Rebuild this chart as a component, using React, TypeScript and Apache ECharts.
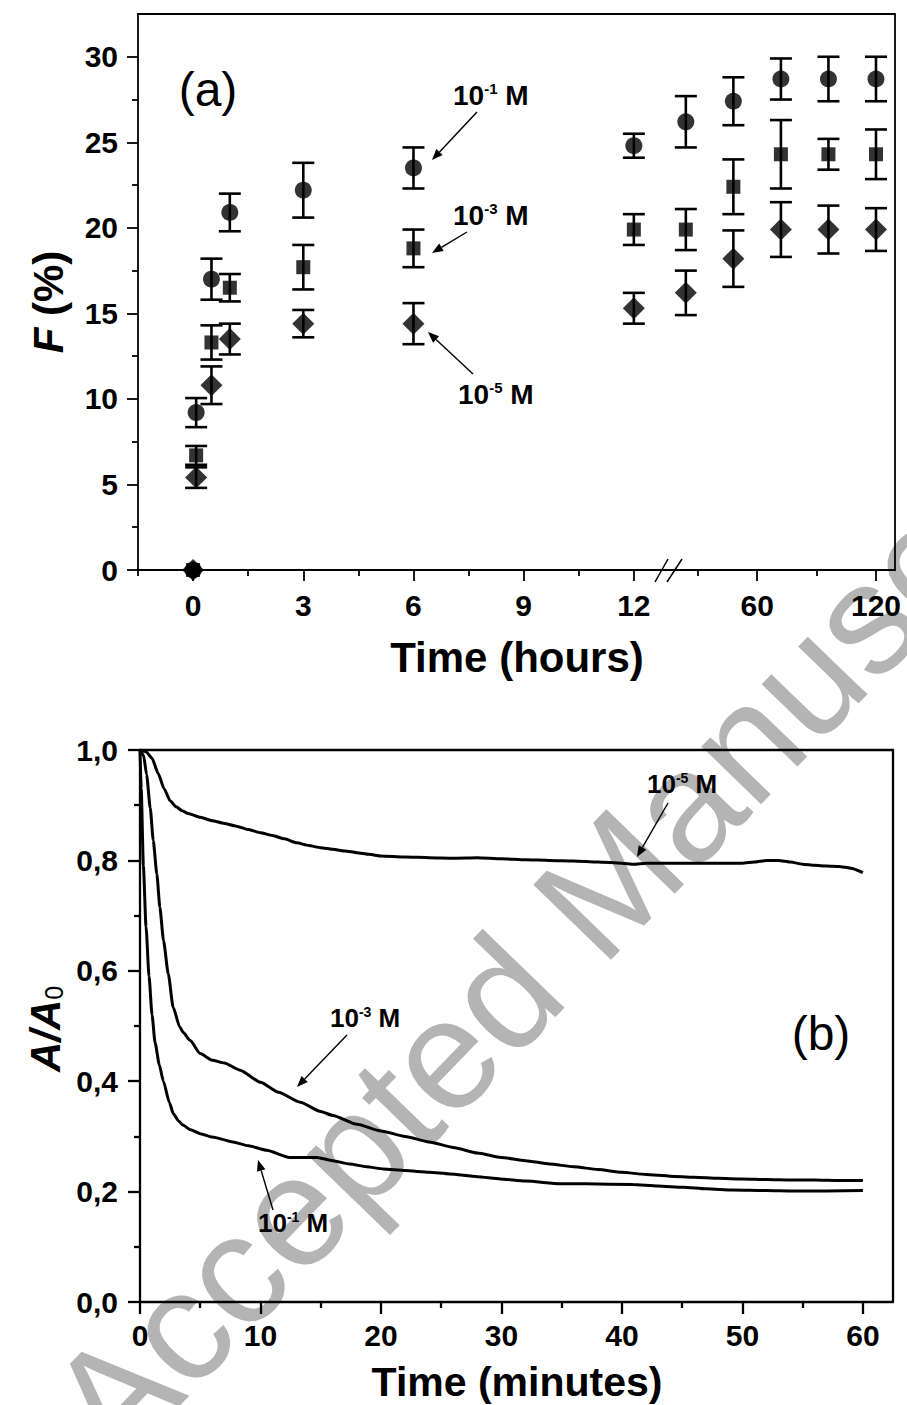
import React, { useEffect, useRef } from 'react';
import * as echarts from 'echarts';

// ---------------- Panel (a): F (%) vs time (hours) ----------------
const hours = [0, 0.083, 0.5, 1, 3, 6, 12, 24, 48, 72, 96, 120];
const fConc1 = [0, 9.2, 17.0, 20.9, 22.2, 23.5, 24.8, 26.2, 27.4, 28.7, 28.7, 28.7];
const fConc1Err = [0, 0.85, 1.2, 1.1, 1.6, 1.2, 0.7, 1.5, 1.4, 1.2, 1.3, 1.3];
const fConc3 = [0, 6.7, 13.3, 16.5, 17.7, 18.8, 19.9, 19.9, 22.4, 24.3, 24.3, 24.3];
const fConc3Err = [0, 0.55, 1.0, 0.8, 1.3, 1.1, 0.9, 1.2, 1.6, 2.0, 0.9, 1.45];
const fConc5 = [0, 5.4, 10.8, 13.5, 14.4, 14.4, 15.3, 16.2, 18.2, 19.9, 19.9, 19.9];
const fConc5Err = [0, 0.6, 1.1, 0.9, 0.8, 1.2, 0.9, 1.3, 1.65, 1.6, 1.4, 1.25];

const breakHour = 13;
const hourTicksLeft = [0, 3, 6, 9, 12];
const hourMinorLeft = [-1.5, 1.5, 4.5, 7.5, 10.5];
const hourTicksRight = [60, 120];
const hourMinorRight = [30, 90];
const fTicks = [0, 5, 10, 15, 20, 25, 30];
const fMinor = [2.5, 7.5, 12.5, 17.5, 22.5, 27.5];

// ---------------- Panel (b): A/A0 vs time (minutes) ----------------
const minuteTicks = [0, 10, 20, 30, 40, 50, 60];
const minuteMinor = [5, 15, 25, 35, 45, 55];

const t5 = [0, 0.5, 1, 1.5, 2, 2.5, 3, 3.5, 4, 5, 6, 7, 8, 9, 10, 11, 12, 13, 14, 15, 16, 17, 18, 19, 20,
  22, 24, 26, 28, 30, 32, 34, 36, 38, 40, 41, 42, 44, 46, 48, 50, 51, 52, 53, 54, 55, 56, 57, 58, 59, 60];
const a5 = [1.0, 0.997, 0.985, 0.958, 0.93, 0.908, 0.897, 0.89, 0.885, 0.878, 0.872, 0.867, 0.862, 0.856, 0.85,
  0.845, 0.839, 0.832, 0.827, 0.823, 0.82, 0.817, 0.814, 0.811, 0.808, 0.806, 0.805, 0.804, 0.805, 0.803, 0.801,
  0.8, 0.799, 0.797, 0.795, 0.793, 0.795, 0.795, 0.795, 0.795, 0.795, 0.797, 0.8, 0.8, 0.797, 0.793, 0.791, 0.79,
  0.789, 0.786, 0.778];

const t3 = [0, 0.3, 0.55, 0.85, 1.1, 1.4, 1.65, 1.95, 2.35, 2.75, 3.3, 3.6, 4.15, 5, 6, 7, 8.3, 10, 11.5, 13.3,
  15, 16, 18, 20, 22, 24, 26, 28, 30, 32, 34, 36, 38, 40, 42, 44, 46, 48, 50, 52, 54, 56, 58, 60];
const a3 = [1.0, 0.99, 0.955, 0.895, 0.836, 0.775, 0.715, 0.655, 0.594, 0.534, 0.498, 0.488, 0.474, 0.45, 0.438,
  0.433, 0.42, 0.398, 0.38, 0.362, 0.345, 0.338, 0.322, 0.31, 0.3, 0.29, 0.28, 0.27, 0.262, 0.256, 0.25, 0.245,
  0.24, 0.235, 0.231, 0.228, 0.226, 0.224, 0.223, 0.222, 0.221, 0.221, 0.22, 0.22];

const t1 = [0, 0.1, 0.28, 0.5, 0.75, 1.0, 1.25, 1.6, 1.94, 2.43, 2.77, 3.2, 3.6, 4.2, 5, 6, 7.7, 9, 10.5, 12.4,
  13.5, 14.7, 16, 17.4, 18.8, 20.2, 22, 24, 25.7, 28, 29.9, 32, 34.9, 37, 40.9, 43, 45.1, 47, 49.2, 52, 54.2, 57, 60];
const a1 = [1.0, 0.93, 0.79, 0.68, 0.59, 0.52, 0.47, 0.43, 0.4, 0.362, 0.341, 0.328, 0.32, 0.312, 0.305, 0.299,
  0.29, 0.283, 0.275, 0.262, 0.262, 0.262, 0.256, 0.25, 0.245, 0.241, 0.238, 0.235, 0.232, 0.227, 0.223, 0.219,
  0.214, 0.214, 0.213, 0.21, 0.208, 0.205, 0.203, 0.202, 0.201, 0.201, 0.202];

const FONT = 'Liberation Sans';
const BLACK = '#000';

function pairs(xs: number[], ys: number[]) {
  return xs.map((x, i) => [x, ys[i]]);
}

function points(vals: number[], left: boolean) {
  const out: number[][] = [];
  hours.forEach((h, i) => {
    if ((h < breakHour) === left) out.push([h, vals[i]]);
  });
  return out;
}

function errs(vals: number[], e: number[], left: boolean) {
  const out: number[][] = [];
  hours.forEach((h, i) => {
    if ((h < breakHour) === left && e[i] > 0) out.push([h, vals[i] - e[i], vals[i] + e[i]]);
  });
  return out;
}

function errRender(params: any, api: any) {
  const x = api.value(0);
  const p1 = api.coord([x, api.value(1)]);
  const p2 = api.coord([x, api.value(2)]);
  const cap = 11;
  const style = { stroke: BLACK, lineWidth: 2.6 };
  return {
    type: 'group',
    children: [
      { type: 'line', shape: { x1: p1[0], y1: p1[1], x2: p2[0], y2: p2[1] }, style },
      { type: 'line', shape: { x1: p1[0] - cap, y1: p1[1], x2: p1[0] + cap, y2: p1[1] }, style },
      { type: 'line', shape: { x1: p2[0] - cap, y1: p2[1], x2: p2[0] + cap, y2: p2[1] }, style },
    ],
  };
}

function arrow(x1: number, y1: number, x2: number, y2: number, w = 1.4, head = 11) {
  const ang = Math.atan2(y2 - y1, x2 - x1);
  const bx = x2 - head * Math.cos(ang);
  const by = y2 - head * Math.sin(ang);
  const hw = head * 0.4;
  const px = -Math.sin(ang) * hw;
  const py = Math.cos(ang) * hw;
  return [
    { type: 'line', z: 20, shape: { x1, y1, x2: bx, y2: by }, style: { stroke: BLACK, lineWidth: w } },
    {
      type: 'polygon', z: 20,
      shape: { points: [[x2, y2], [bx + px, by + py], [bx - px, by - py]] },
      style: { fill: BLACK },
    },
  ];
}

function concLabel(x: number, y: number, exp: string, size: number, weight: string) {
  const sup = Math.round(size * 0.52);
  return {
    type: 'text', x, y, z: 20,
    style: {
      text: `{n|10}{s|${exp}}{n| M}`,
      align: 'left', verticalAlign: 'middle',
      fontFamily: FONT, fontSize: size, fontWeight: weight, fill: BLACK,
      rich: {
        n: { fontFamily: FONT, fontSize: size, fontWeight: weight, fill: BLACK, lineHeight: size },
        s: { fontFamily: FONT, fontSize: sup, fontWeight: weight, fill: BLACK, verticalAlign: 'top', lineHeight: sup },
      },
    },
  };
}

const lineSty = (w: number) => ({ color: BLACK, width: w });

function valueAxis(extra: any) {
  return {
    type: 'value',
    splitLine: { show: false },
    axisLine: { show: false, onZero: false },
    axisTick: { show: false },
    axisLabel: { show: false },
    ...extra,
  };
}

export default function App() {
  const ref = useRef<HTMLDivElement>(null);

  useEffect(() => {
    if (!ref.current) return;
    const chart = echarts.init(ref.current, undefined, { renderer: 'svg' });

    const tickLabel = { color: BLACK, fontSize: 30, fontWeight: 'bold', fontFamily: FONT };
    const lwA = 1.8;
    const lwB = 2.3;

    const xAxis = [
      // 0: panel a, left segment, main
      valueAxis({
        gridIndex: 0, min: -1.5, max: 12.93, position: 'bottom',
        axisLine: { show: true, onZero: false, lineStyle: lineSty(lwA) },
        axisTick: { show: true, length: 11, customValues: hourTicksLeft, lineStyle: lineSty(lwA) },
        axisLabel: { show: true, customValues: hourTicksLeft, margin: 20, ...tickLabel },
      }),
      // 1: minor ticks
      valueAxis({
        gridIndex: 0, min: -1.5, max: 12.93, position: 'bottom',
        axisTick: { show: true, length: 6, customValues: hourMinorLeft, lineStyle: lineSty(lwA) },
      }),
      // 2: top frame
      valueAxis({
        gridIndex: 0, min: -1.5, max: 12.93, position: 'top',
        axisLine: { show: true, onZero: false, lineStyle: lineSty(lwA) },
      }),
      // 3: panel a, right segment, main
      valueAxis({
        gridIndex: 1, min: 15, max: 129.6, position: 'bottom',
        axisLine: { show: true, onZero: false, lineStyle: lineSty(lwA) },
        axisTick: { show: true, length: 11, customValues: hourTicksRight, lineStyle: lineSty(lwA) },
        axisLabel: { show: true, customValues: hourTicksRight, margin: 20, ...tickLabel },
      }),
      // 4: minor ticks
      valueAxis({
        gridIndex: 1, min: 15, max: 129.6, position: 'bottom',
        axisTick: { show: true, length: 6, customValues: hourMinorRight, lineStyle: lineSty(lwA) },
      }),
      // 5: top frame
      valueAxis({
        gridIndex: 1, min: 15, max: 129.6, position: 'top',
        axisLine: { show: true, onZero: false, lineStyle: lineSty(lwA) },
      }),
      // 6: panel b main
      valueAxis({
        gridIndex: 2, min: 0, max: 62.5, position: 'bottom',
        axisLine: { show: true, onZero: false, lineStyle: lineSty(lwB) },
        axisTick: { show: true, length: 12, customValues: minuteTicks, lineStyle: lineSty(lwB) },
        axisLabel: { show: true, customValues: minuteTicks, margin: 18, ...tickLabel },
      }),
      // 7: minor ticks
      valueAxis({
        gridIndex: 2, min: 0, max: 62.5, position: 'bottom',
        axisTick: { show: true, length: 6, customValues: minuteMinor, lineStyle: lineSty(lwB) },
      }),
      // 8: top frame
      valueAxis({
        gridIndex: 2, min: 0, max: 62.5, position: 'top',
        axisLine: { show: true, onZero: false, lineStyle: lineSty(lwB) },
      }),
    ];

    const yAxis = [
      // 0: panel a main
      valueAxis({
        gridIndex: 0, min: 0, max: 32.5, position: 'left',
        axisLine: { show: true, onZero: false, lineStyle: lineSty(lwA) },
        axisTick: { show: true, length: 11, customValues: fTicks, lineStyle: lineSty(lwA) },
        axisLabel: { show: true, customValues: fTicks, margin: 20, ...tickLabel },
      }),
      // 1: minor
      valueAxis({
        gridIndex: 0, min: 0, max: 32.5, position: 'left',
        axisTick: { show: true, length: 6, customValues: fMinor, lineStyle: lineSty(lwA) },
      }),
      // 2: right segment frame
      valueAxis({
        gridIndex: 1, min: 0, max: 32.5, position: 'right',
        axisLine: { show: true, onZero: false, lineStyle: lineSty(lwA) },
      }),
      // 3: panel b main
      valueAxis({
        gridIndex: 2, min: 0, max: 1, interval: 0.2, position: 'left',
        axisLine: { show: true, onZero: false, lineStyle: lineSty(lwB) },
        axisTick: { show: true, length: 12, lineStyle: lineSty(lwB) },
        minorTick: { show: true, splitNumber: 2, length: 6, lineStyle: lineSty(lwB) },
        axisLabel: {
          show: true, margin: 22, ...tickLabel,
          formatter: (v: number) => v.toFixed(1).replace('.', ','),
        },
      }),
      // 4: right frame
      valueAxis({
        gridIndex: 2, min: 0, max: 1, position: 'right',
        axisLine: { show: true, onZero: false, lineStyle: lineSty(lwB) },
      }),
    ];

    const groups = [
      { name: '10^-1 M', vals: fConc1, e: fConc1Err, symbol: 'circle', size: 17 },
      { name: '10^-3 M', vals: fConc3, e: fConc3Err, symbol: 'rect', size: 14 },
      { name: '10^-5 M', vals: fConc5, e: fConc5Err, symbol: 'diamond', size: 22 },
    ];

    const series: any[] = [];
    groups.forEach((g) => {
      [true, false].forEach((left) => {
        series.push({
          type: 'custom',
          name: g.name + ' error',
          xAxisIndex: left ? 0 : 3,
          yAxisIndex: left ? 0 : 2,
          renderItem: errRender,
          encode: { x: 0, y: [1, 2] },
          data: errs(g.vals, g.e, left),
          clip: false,
          z: 3,
        });
      });
    });
    groups.forEach((g) => {
      [true, false].forEach((left) => {
        series.push({
          type: 'scatter',
          name: g.name,
          xAxisIndex: left ? 0 : 3,
          yAxisIndex: left ? 0 : 2,
          symbol: g.symbol,
          symbolSize: g.size,
          itemStyle: { color: BLACK },
          data: points(g.vals, left),
          clip: false,
          z: 4,
        });
      });
    });

    const curves = [
      { name: '10^-5 M', data: pairs(t5, a5) },
      { name: '10^-3 M', data: pairs(t3, a3) },
      { name: '10^-1 M', data: pairs(t1, a1) },
    ];
    curves.forEach((c) => {
      series.push({
        type: 'line',
        name: c.name,
        xAxisIndex: 6,
        yAxisIndex: 3,
        data: c.data,
        showSymbol: false,
        smooth: 0.2,
        smoothMonotone: 'x',
        lineStyle: { color: BLACK, width: 3 },
        z: 4,
      });
    });

    const axisTitle = (x: number, y: number, text: string, rich: any, rotation = 0, size = 42) => ({
      type: 'text', x, y, rotation, z: 20,
      style: {
        text, rich, align: 'center', verticalAlign: 'middle',
        fontFamily: FONT, fontSize: size, fontWeight: 'bold', fill: BLACK,
      },
    });

    const graphic: any[] = [
      // watermark
      {
        type: 'text', x: 587, y: 906, rotation: (46 * Math.PI) / 180, z: -10,
        style: {
          text: 'Accepted Manuscript', align: 'center', verticalAlign: 'middle',
          fontFamily: FONT, fontSize: 157, fill: '#b4b4b4',
        },
      },
      // panel letters
      {
        type: 'text', x: 208, y: 89, z: 20,
        style: { text: '(a)', align: 'center', verticalAlign: 'middle', fontFamily: FONT, fontSize: 48, fill: BLACK },
      },
      {
        type: 'text', x: 821, y: 1033, z: 20,
        style: { text: '(b)', align: 'center', verticalAlign: 'middle', fontFamily: FONT, fontSize: 48, fill: BLACK },
      },
      // axis titles
      axisTitle(517, 657, 'Time (hours)', undefined),
      axisTitle(517, 1382, 'Time (minutes)', undefined, 0, 41),
      axisTitle(48, 302, '{i|F}{n| (%)}', {
        i: { fontFamily: FONT, fontSize: 42, fontWeight: 'bold', fontStyle: 'italic', fill: BLACK },
        n: { fontFamily: FONT, fontSize: 42, fontWeight: 'bold', fill: BLACK },
      }, Math.PI / 2),
      axisTitle(45, 1029, '{i|A/A}{s|0}', {
        i: { fontFamily: FONT, fontSize: 42, fontWeight: 'bold', fontStyle: 'italic', fill: BLACK, lineHeight: 42 },
        s: { fontFamily: FONT, fontSize: 25, fill: BLACK, verticalAlign: 'bottom', lineHeight: 25 },
      }, Math.PI / 2),
      // concentration labels, panel a
      concLabel(453, 95, '-1', 28, 'bold'),
      concLabel(453, 215, '-3', 28, 'bold'),
      concLabel(458, 394, '-5', 28, 'bold'),
      // panel b
      concLabel(647, 784, '-5', 26, 'bold'),
      concLabel(330, 1018, '-3', 26, 'bold'),
      concLabel(258, 1223, '-1', 26, 'bold'),
      // arrows
      ...arrow(477, 112, 432, 160),
      ...arrow(467, 232, 432, 253),
      ...arrow(473, 374, 428, 332),
      ...arrow(668, 803, 637, 857),
      ...arrow(347, 1035, 297, 1087),
      ...arrow(273, 1210, 258, 1160),
      // axis break marks
      { type: 'line', z: 20, shape: { x1: 655, y1: 582, x2: 668, y2: 559 }, style: { stroke: BLACK, lineWidth: 1.5 } },
      { type: 'line', z: 20, shape: { x1: 667, y1: 582, x2: 682, y2: 559 }, style: { stroke: BLACK, lineWidth: 1.5 } },
    ];

    chart.setOption({
      animation: false,
      backgroundColor: '#fff',
      textStyle: { fontFamily: FONT },
      grid: [
        { left: 138, top: 14, width: 530, height: 556 },
        { left: 668, top: 14, width: 227, height: 556 },
        { left: 140, top: 750, width: 753, height: 552 },
      ],
      xAxis,
      yAxis,
      series,
      graphic,
    });

    return () => chart.dispose();
  }, []);

  return (
    <div
      ref={ref}
      style={{ position: 'absolute', left: 0, top: 0, width: 907, height: 1405 }}
    />
  );
}
